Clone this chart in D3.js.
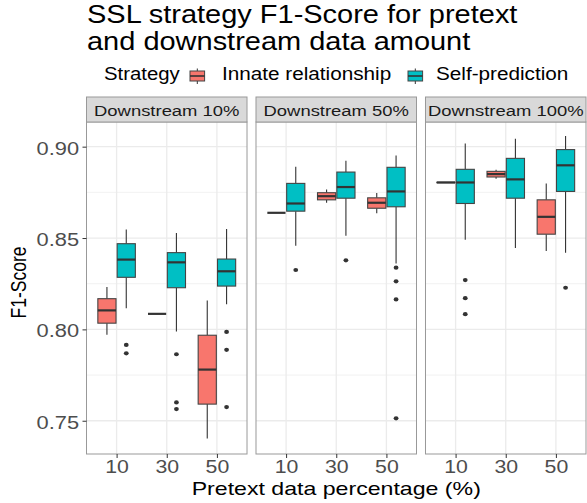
<!DOCTYPE html>
<html>
<head>
<meta charset="utf-8">
<script src="https://cdn.jsdelivr.net/npm/d3@7"></script>
<style>
  body { margin: 0; background: #fff; }
  text { font-family: "Liberation Sans", Arial, Helvetica, sans-serif; }
</style>
</head>
<body>
<script>
// ---------------- DATA ----------------
const facets = ["Downstream 10%", "Downstream 50%", "Downstream 100%"];
const pretextLevels = ["10", "30", "50"];
const strategies = ["Innate relationship", "Self-prediction"];
const strategyColors = ["#F8766D", "#00BFC4"];
const yTicks = [0.75, 0.80, 0.85, 0.90];
const yMinorTicks = [0.775, 0.825, 0.875];

// five-number summaries [lower whisker, Q1, median, Q3, upper whisker]
// rows: facet (downstream 10/50/100), columns: pretext 10/30/50
const innateStats = [
  [[0.7970, 0.8034, 0.8104, 0.8168, 0.8232], [0.8085, 0.8085, 0.8085, 0.8085, 0.8085], [0.7403, 0.7591, 0.7780, 0.7968, 0.8158]],
  [[0.8638, 0.8638, 0.8638, 0.8638, 0.8638], [0.8693, 0.8709, 0.8729, 0.8748, 0.8766], [0.8636, 0.8663, 0.8693, 0.8720, 0.8746]],
  [[0.8802, 0.8803, 0.8804, 0.8805, 0.8806], [0.8824, 0.8834, 0.8850, 0.8865, 0.8874], [0.8429, 0.8521, 0.8616, 0.8709, 0.8799]]
];
const selfStats = [
  [[0.8116, 0.8285, 0.8382, 0.8469, 0.8546], [0.7988, 0.8228, 0.8367, 0.8420, 0.8528], [0.8138, 0.8237, 0.8318, 0.8385, 0.8550]],
  [[0.8458, 0.8647, 0.8689, 0.8799, 0.8890], [0.8513, 0.8718, 0.8779, 0.8861, 0.8923], [0.8360, 0.8671, 0.8755, 0.8887, 0.8951]],
  [[0.8491, 0.8689, 0.8804, 0.8876, 0.9018], [0.8446, 0.8718, 0.8821, 0.8936, 0.9044], [0.8420, 0.8755, 0.8898, 0.8984, 0.9059]]
];
const innateOutliers = [
  [[], [], []],
  [[], [], []],
  [[], [], []]
];
const selfOutliers = [
  [[0.7915, 0.7869], [0.7864, 0.7600, 0.7564], [0.7986, 0.7888, 0.7575]],
  [[0.8325], [0.8378], [0.8338, 0.8263, 0.8164, 0.7513]],
  [[0.8270, 0.8171, 0.8083], [], [0.8228]]
];

// ---------------- LAYOUT ----------------
const W = 587, H = 503;
const panelTop = 122, panelBottom = 454, stripTop = 97;
const svg = d3.select("body").append("svg").attr("width", W).attr("height", H);

const fx = d3.scaleBand().domain(facets).range([86.5, 586]).paddingInner(0.053);
const bw = fx.bandwidth();
const xp = d3.scalePoint().domain(pretextLevels).range([0, bw]).padding(0.6);
const y = d3.scaleLinear().domain([0.7318, 0.9135]).range([panelBottom, panelTop]);
const dodge = d3.scaleBand().domain(strategies).range([-18.75, 18.75]).paddingInner(0.06);

const boxes = [];
facets.forEach((f, fi) => {
  pretextLevels.forEach((p, pi) => {
    [innateStats, selfStats].forEach((stats, si) => {
      const s = stats[fi][pi];
      const outs = (si === 0 ? innateOutliers : selfOutliers)[fi][pi];
      boxes.push({ facet: f, pretext: p, strategy: strategies[si], color: strategyColors[si],
        lo: s[0], q1: s[1], med: s[2], q3: s[3], hi: s[4], outliers: outs });
    });
  });
});

function addText(parent, str, x, yy, size, sx, anchor, color) {
  return parent.append("text")
    .attr("transform", `translate(${x},${yy}) scale(${sx},1)`)
    .attr("text-anchor", anchor)
    .attr("font-size", size)
    .attr("fill", color || "#000")
    .text(str);
}

// ---------------- PANELS ----------------
facets.forEach(f => {
  const g = svg.append("g").attr("transform", `translate(${fx(f)},0)`);
  g.append("rect").attr("x", 0).attr("y", panelTop).attr("width", bw)
    .attr("height", panelBottom - panelTop).attr("fill", "#fff");
  // minor grid
  g.selectAll(".minor").data(yMinorTicks).enter().append("line")
    .attr("x1", 0).attr("x2", bw).attr("y1", d => y(d)).attr("y2", d => y(d))
    .attr("stroke", "#EBEBEB").attr("stroke-width", 0.7);
  // major grid
  g.selectAll(".major").data(yTicks).enter().append("line")
    .attr("x1", 0).attr("x2", bw).attr("y1", d => y(d)).attr("y2", d => y(d))
    .attr("stroke", "#EBEBEB").attr("stroke-width", 1.3);
  g.selectAll(".vmajor").data(pretextLevels).enter().append("line")
    .attr("x1", d => xp(d)).attr("x2", d => xp(d)).attr("y1", panelTop).attr("y2", panelBottom)
    .attr("stroke", "#EBEBEB").attr("stroke-width", 1.3);

  // boxes
  const fb = boxes.filter(b => b.facet === f);
  const bg = g.selectAll(".box").data(fb).enter().append("g")
    .attr("transform", b => `translate(${xp(b.pretext) + dodge(b.strategy) + dodge.bandwidth() / 2},0)`);
  const hw = dodge.bandwidth() / 2;
  bg.append("line").attr("x1", 0).attr("x2", 0).attr("y1", b => y(b.hi)).attr("y2", b => y(b.q3))
    .attr("stroke", "#333").attr("stroke-width", 1.1);
  bg.append("line").attr("x1", 0).attr("x2", 0).attr("y1", b => y(b.q1)).attr("y2", b => y(b.lo))
    .attr("stroke", "#333").attr("stroke-width", 1.1);
  bg.append("rect").attr("x", -hw).attr("width", 2 * hw)
    .attr("y", b => y(b.q3)).attr("height", b => Math.max(0, y(b.q1) - y(b.q3)))
    .attr("fill", b => b.color).attr("stroke", "#444").attr("stroke-width", 1.1);
  bg.append("line").attr("x1", -hw).attr("x2", hw).attr("y1", b => y(b.med)).attr("y2", b => y(b.med))
    .attr("stroke", "#333").attr("stroke-width", 2.2);
  bg.each(function (b) {
    d3.select(this).selectAll("ellipse").data(b.outliers).enter().append("ellipse")
      .attr("cx", 0).attr("cy", d => y(d)).attr("rx", 2.4).attr("ry", 2.1).attr("fill", "#333");
  });

  // border
  g.append("rect").attr("x", 0).attr("y", panelTop).attr("width", bw)
    .attr("height", panelBottom - panelTop).attr("fill", "none").attr("stroke", "#999").attr("stroke-width", 1);
  // strip
  g.append("rect").attr("x", 0).attr("y", stripTop).attr("width", bw).attr("height", panelTop - stripTop)
    .attr("fill", "#D9D9D9").attr("stroke", "#999").attr("stroke-width", 1);
  addText(g, f, bw / 2, 116, 15.5, 1.19, "middle", "#1A1A1A");

  // x axis
  const xa = g.append("g").attr("transform", `translate(0,${panelBottom})`)
    .call(d3.axisBottom(xp).tickSize(4).tickPadding(2));
  xa.select(".domain").remove();
  xa.selectAll(".tick line").attr("stroke", "#333");
  xa.selectAll(".tick text").attr("font-size", 18.5).attr("fill", "#4D4D4D")
    .attr("font-family", "Liberation Sans, Arial, sans-serif")
    .attr("transform", "scale(1.15,1)");
});

// y axis
const ya = svg.append("g").attr("transform", `translate(${fx(facets[0])},0)`)
  .call(d3.axisLeft(y).tickValues(yTicks).tickFormat(d3.format(".2f")).tickSize(4).tickPadding(2.5));
ya.select(".domain").remove();
ya.selectAll(".tick line").attr("stroke", "#333");
ya.selectAll(".tick text").attr("font-size", 19).attr("fill", "#4D4D4D")
  .attr("font-family", "Liberation Sans, Arial, sans-serif")
  .attr("dy", "0.4em").attr("transform", "scale(1.15,1)");

// axis titles
addText(svg, "Pretext data percentage (%)", (86.5 + 586) / 2, 495, 18.5, 1.25, "middle");
svg.append("text")
  .attr("transform", "translate(26,282.5) scale(1.25,1) rotate(-90)")
  .attr("text-anchor", "middle").attr("font-size", 17.5).attr("fill", "#000")
  .text("F1-Score");

// title
addText(svg, "SSL strategy F1-Score for pretext", 87, 23, 26, 1.115, "start");
addText(svg, "and downstream data amount", 87, 50, 26, 1.115, "start");

// legend
addText(svg, "Strategy", 104, 80, 18.5, 1.1, "start");
const legendX = [190, 408];
const legendTextX = [222, 436];
strategies.forEach((s, i) => {
  const lg = svg.append("g").attr("transform", `translate(${legendX[i]},0)`);
  lg.append("line").attr("x1", 7.3).attr("x2", 7.3).attr("y1", 68.5).attr("y2", 84)
    .attr("stroke", "#333").attr("stroke-width", 1);
  lg.append("rect").attr("x", 0).attr("y", 71).attr("width", 14.6).attr("height", 10)
    .attr("fill", strategyColors[i]).attr("stroke", "#444").attr("stroke-width", 1);
  lg.append("line").attr("x1", 0).attr("x2", 14.6).attr("y1", 76).attr("y2", 76)
    .attr("stroke", "#333").attr("stroke-width", 1.6);
  addText(svg, s, legendTextX[i], 80, 18.5, 1.12, "start");
});
</script>
</body>
</html>
